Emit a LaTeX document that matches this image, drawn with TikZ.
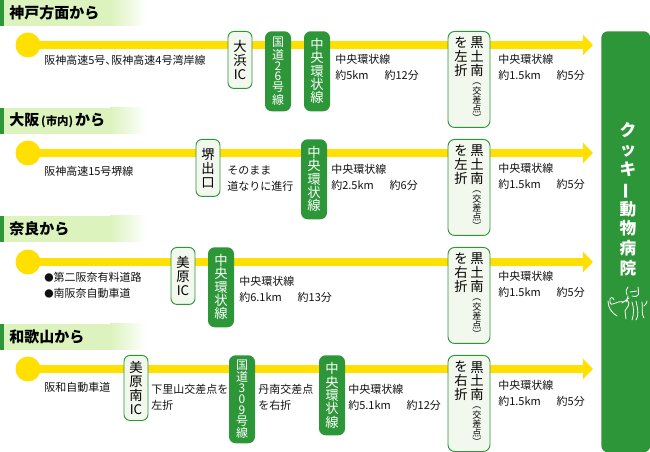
\documentclass[tikz,border=0pt]{standalone}
\usepackage{fontspec}
\setmainfont{Noto Sans CJK JP}
\usetikzlibrary{arrows.meta}
\definecolor{kgreen}{HTML}{2D9638}
\definecolor{kleaf}{HTML}{DCF3BD}
\definecolor{kpale}{HTML}{F2F8EE}
\definecolor{kroad}{HTML}{FFE000}
\definecolor{ktext}{HTML}{111111}
\newcommand{\kfont}[2]{\fontsize{#1}{#2}\selectfont}
\newcommand{\kbar}{\rotatebox[origin=c]{90}{ー}}
\newcommand{\kgap}{\hspace{1.45em}}
\tikzset{
  road/.style={draw=kroad,line width=6pt,-{Triangle[length=7.5pt,width=15pt]}},
  start/.style={circle,fill=kroad,minimum size=18.75pt,inner sep=0pt},
  head/.style={anchor=west,inner sep=0pt,text=black,font=\kfont{11.25}{13}\bfseries},
  exitbox/.style={draw=kgreen,line width=.7pt,fill=kpale,rounded corners=4.5pt,anchor=north,
    inner sep=0pt,minimum width=18pt,align=center,text=black,font=\kfont{10}{10.6}},
  linebox/.style={fill=kgreen,rounded corners=5pt,anchor=north,inner sep=0pt,
    minimum width=19.5pt,align=center,text=white,font=\kfont{10}{10}},
  numbox/.style={linebox,font=\kfont{9}{8.1}},
  turnbox/.style={draw=kgreen,line width=.7pt,fill=kpale,rounded corners=5pt,anchor=north,
    inner sep=0pt,minimum width=31.5pt,minimum height=72pt},
  turntext/.style={anchor=north,inner sep=0pt,align=center,text=black,font=\kfont{10}{10.3}},
  info/.style={anchor=west,inner sep=0pt,align=left,text=ktext,font=\kfont{8.25}{12}},
}
\begin{document}
\begin{tikzpicture}[x=0.75pt,y=-0.75pt]
\useasboundingbox (0,0) rectangle (650,452);

% heads
\foreach \y/\name/\txt in {0/h1/神戸方面から,108/h2/大阪{\kfont{8.6}{10}\,(市内)\,}から,216/h3/奈良から,324/h4/和歌山から}{
  \fill[kleaf] (4,\y) rectangle (110,\y+26);
  \shade[left color=kleaf,right color=white] (110,\y) rectangle (146,\y+26);
  \fill[kgreen] (0,\y) rectangle (4,\y+26);
  \node[head] (\name) at (9,\y+12.5) {\txt};
}

% roads
\foreach \n/\y in {1/45,2/153,3/262,4/369}{
  \node[start] (s\n) at (28,\y) {};
  \coordinate (e\n) at (593,\y);
  \draw[road] (s\n.center) -- (e\n);
}

% kobe
\node[exitbox,minimum height=42.75pt] (ohama) at (240,31) {大\\浜\\IC};
\node[numbox,minimum height=60pt] (kokudo26) at (278,31) {国\\道\\2\\6\\号\\線};
\node[linebox,minimum height=60pt] (chuo1) at (317,31) {中\\央\\環\\状\\線};
\node[info] (t11) at (44,60) {阪神高速5号、\hspace{-.45em}阪神高速4号湾岸線};
\node[info] (t12) at (335,67) {中央環状線\\約5km\kgap 約12分};

% osaka
\node[exitbox,minimum height=42.75pt] (sakai) at (208,139) {堺\\出\\口};
\node[linebox,minimum height=60pt] (chuo2) at (314,139) {中\\央\\環\\状\\線};
\node[info] (t21) at (44,171) {阪神高速15号堺線};
\node[info] (t22) at (227,179) {そのまま\\道なりに進行};
\node[info] (t23) at (331,177) {中央環状線\\約2.5km\kgap 約6分};

% nara
\node[exitbox,minimum height=42.75pt] (mihara) at (183,247) {美\\原\\IC};
\node[linebox,minimum height=60pt] (chuo3) at (221,247) {中\\央\\環\\状\\線};
\node[info] (t31) at (44,285.5) {{\kfont{7}{12}●}第二阪奈有料道路\\{\kfont{7}{12}●}南阪奈自動車道};
\node[info] (t32) at (239,289) {中央環状線\\約6.1km\kgap 約13分};

% wakayama
\node[exitbox,minimum height=48.75pt] (miharaminami) at (136,355) {美\\原\\南\\IC};
\node[numbox,minimum height=66pt] (kokudo309) at (242,355) {国\\道\\3\\0\\9\\号\\線};
\node[linebox,minimum height=60pt] (chuo4) at (332,355) {中\\央\\環\\状\\線};
\node[info] (t41) at (44,387) {阪和自動車道};
\node[info] (t42) at (151,397) {下里山交差点を\\左折};
\node[info] (t43) at (258,397) {丹南交差点\\を右折};
\node[info] (t44) at (348,397) {中央環状線\\約5.1km\kgap 約12分};

% kuroto minami
\foreach \n/\y/\yy/\turn in {1/31/67/左,2/139/176/左,3/247/284.5/右,4/355/393/右}{
  \node[turnbox] (box\n) at (469,\y) {};
  \node[turntext] (turn\n) at (461,\y+6) {を\\\turn\\折};
  \node[turntext] (kuro\n) at (477,\y+6) {黒\\土\\南};
  \node[turntext,font=\kfont{6.8}{6.8}] (cross\n) at (477,\y+52) {︵\\交\\差\\点\\︶};
  \node[info] (last\n) at (498,\yy) {中央環状線\\約1.5km\kgap 約5分};
}

% goal
\node[fill=kgreen,rounded corners=5pt,anchor=north west,inner sep=0pt,minimum width=36.75pt,minimum height=315.75pt,
  text=white] (goal) at (601,31) {};
\node[anchor=north,inner sep=0pt,align=center,text=white,font=\kfont{12.5}{14.8}\bfseries] (goaltext) at (628,122)
  {ク\\ッ\\キ\\\kbar\\動\\物\\病\\院};

% cats
\draw[white,line width=.6pt,line cap=round]
  (624,302) .. controls (616,300) and (611,308) .. (610,302) .. controls (609,297) and (613,296) .. (614,300)
  (608,301) .. controls (608,308) and (612,313) .. (617,316)
  (622,303) -- (629,298) (626,302) -- (628,296) (627,295) .. controls (625,291) and (627,288) .. (628,287)
  (632,296) .. controls (640,298) and (639,293) .. (638,287) (630,292) -- (637,291)
  (627,300) .. controls (632,304) and (626,308) .. (625,311) -- (626,319)
  (632,302) .. controls (634,308) and (634,314) .. (632,320)
  (636,301) .. controls (638,310) and (639,316) .. (636,320)
  (642,302) .. controls (643,308) and (641,314) .. (644,318)
  (644,306) .. controls (646,304) and (647,303) .. (647,301);
\end{tikzpicture}
\end{document}
